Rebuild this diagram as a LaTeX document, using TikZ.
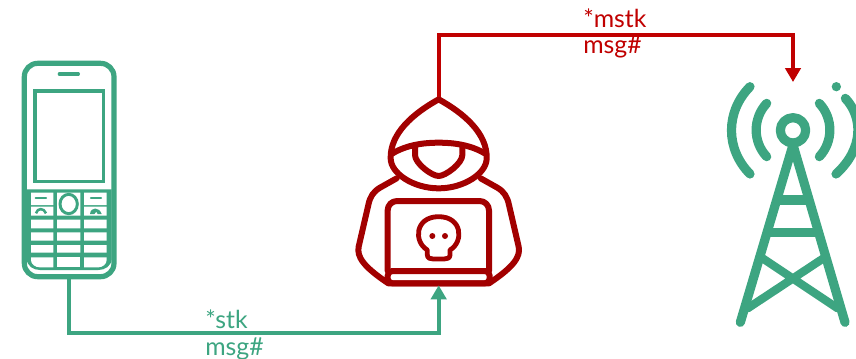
\documentclass[tikz,border=0pt]{standalone}
\usepackage{fontspec}
\setmainfont{Lato}
\usetikzlibrary{arrows.meta}
\definecolor{tgreen}{HTML}{3DA581}
\definecolor{hood}{HTML}{A20000}
\definecolor{wire}{HTML}{C00000}
\tikzset{
  gicon/.style={draw=tgreen,line join=round,line cap=round},
  ricon/.style={draw=hood,line join=round,line cap=round},
  wiregreen/.style={draw=tgreen,line width=2.9pt,-{Triangle[width=11.5pt,length=10.5pt]}},
  wirered/.style={draw=wire,line width=2.9pt,-{Triangle[width=11.5pt,length=10.5pt]}},
  lbl/.style={font=\fontsize{18.6}{20}\selectfont,anchor=base west,inner sep=0pt},
  zoomed/.style={x=.25pt,y=-.25pt}
}
\begin{document}
\begin{tikzpicture}[x=.75pt,y=-.75pt]
\useasboundingbox (0,0) rectangle (856,358);
% phone
\begin{scope}[shift={(0,50)},zoomed]
  \draw[gicon,line width=3.9pt,fill=white,rounded corners=10pt] (73,40) rectangle (342,680);
  \fill[tgreen] (80,418) -- (335,418) -- (335,625) .. controls (335,648) and (315,660) .. (295,660) -- (120,660) .. controls (100,660) and (80,648) .. (80,625) -- cycle;
  \draw[gicon,line width=2.5pt] (178,72) -- (235,72);
  \draw[gicon,line width=2.4pt,line cap=butt,line join=miter] (105,123) rectangle (310,395);
  \fill[white] (93,428) rectangle (160,465) (93,470) rectangle (160,497)
    (252,428) rectangle (320,465) (252,470) rectangle (320,497)
    (171,428) rectangle (241,497);
  \foreach \r/\s in {509/535,547/572,585/608}{
    \fill[white] (93,\r) rectangle (160,\s) (171,\r) rectangle (241,\s) (252,\r) rectangle (320,\s);
  }
  \fill[white] (93,622) -- (160,622) -- (160,652) -- (120,652) .. controls (105,652) and (93,642) .. (93,630) -- cycle;
  \fill[white] (171,622) rectangle (241,652);
  \fill[white] (252,622) -- (320,622) -- (320,630) .. controls (320,642) and (308,652) .. (295,652) -- (252,652) -- cycle;
  \draw[gicon,line width=2.2pt] (206,462) ellipse [x radius=26,y radius=29];
  \draw[gicon,line width=1.7pt] (107,444) -- (138,444) (273,444) -- (303,444);
  \draw[gicon,line width=1.9pt,line cap=butt] (108,490) .. controls (112,473) and (132,473) .. (138,490);
  \fill[tgreen] (270,492) .. controls (272,470) and (298,470) .. (305,492) -- (293,492) -- (289,485) -- (283,492) -- cycle;
  \coordinate (phoneout) at (206,680);
\end{scope}
% hacker
\begin{scope}[shift={(340,90)},zoomed,line width=4.5pt]
  \draw[ricon] (296,28) .. controls (220,70) and (150,130) .. (152,205)
    .. controls (152,250) and (220,295) .. (296,295)
    .. controls (372,295) and (440,250) .. (440,205)
    .. controls (442,130) and (372,70) .. (296,28) -- cycle;
  \draw[ricon] (158,190) .. controls (200,165) and (250,158) .. (296,158) .. controls (342,158) and (392,165) .. (434,190);
  \draw[ricon] (225,170) -- (225,195) .. controls (225,220) and (275,258) .. (296,258) .. controls (317,258) and (367,220) .. (367,195) -- (367,170);
  \draw[ricon] (170,265) -- (120,293) .. controls (100,305) and (90,320) .. (85,345) -- (56,470) .. controls (50,500) and (70,530) .. (145,580) -- (447,580) .. controls (522,530) and (542,500) .. (536,470) -- (507,345) .. controls (502,320) and (492,305) .. (472,293) -- (422,265);
  \draw[ricon,rounded corners=7pt] (143,543) -- (143,333) -- (447,333) -- (447,543);
  \draw[ricon,rounded corners=3.5pt] (143,543) rectangle (449,580);
  \draw[ricon,line width=3.6pt] (262,480) .. controls (220,455) and (225,380) .. (296,380) .. controls (367,380) and (372,455) .. (330,480) -- (330,495) .. controls (330,505) and (320,507) .. (312,507) -- (280,507) .. controls (272,507) and (262,505) .. (262,495) -- cycle;
  \fill[hood] (277,438) circle [radius=9] (315,438) circle [radius=9];
  \coordinate (hackertop) at (296,22);
  \coordinate (hackerbot) at (296,586);
\end{scope}
% tower
\begin{scope}[shift={(716,70)},zoomed]
  \draw[gicon,line width=6.9pt] (231,181) circle [radius=38];
  \draw[gicon,line width=6.9pt] (73,757) -- (231,225) -- (387,757);
  \draw[gicon,line width=6.9pt,line cap=butt] (187,390) -- (275,390) (160,488) -- (302,488);
  \draw[gicon,line width=6.2pt] (140,565) -- (365,715) (322,565) -- (95,715);
  \draw[gicon,line width=6.9pt] (102,50) .. controls (28,125) and (28,237) .. (102,312);
  \draw[gicon,line width=6.9pt] (152,100) .. controls (110,145) and (110,215) .. (152,260);
  \draw[gicon,line width=6.9pt] (310,100) .. controls (352,145) and (352,215) .. (310,260);
  \draw[gicon,line width=6.9pt] (388,85) .. controls (440,140) and (445,235) .. (360,312);
  \fill[tgreen] (361,50) circle [radius=14];
  \coordinate (towertop) at (231,36);
\end{scope}
% connectors
\coordinate (gbend) at (hackerbot |- 0,333);
\coordinate (rbend) at (towertop |- 0,35);
\draw[wiregreen] (phoneout) |- (gbend) -- (hackerbot);
\draw[wirered] (hackertop) |- (rbend) -- (towertop);
% labels
\node[lbl,text=tgreen] (stk) at (205,328.5) {*stk};
\node[lbl,text=tgreen] (msga) at (205,355.5) {msg\#};
\node[lbl,text=wire] (mstk) at (583,27.5) {*mstk};
\node[lbl,text=wire] (msgb) at (583,53) {msg\#};
\end{tikzpicture}
\end{document}
